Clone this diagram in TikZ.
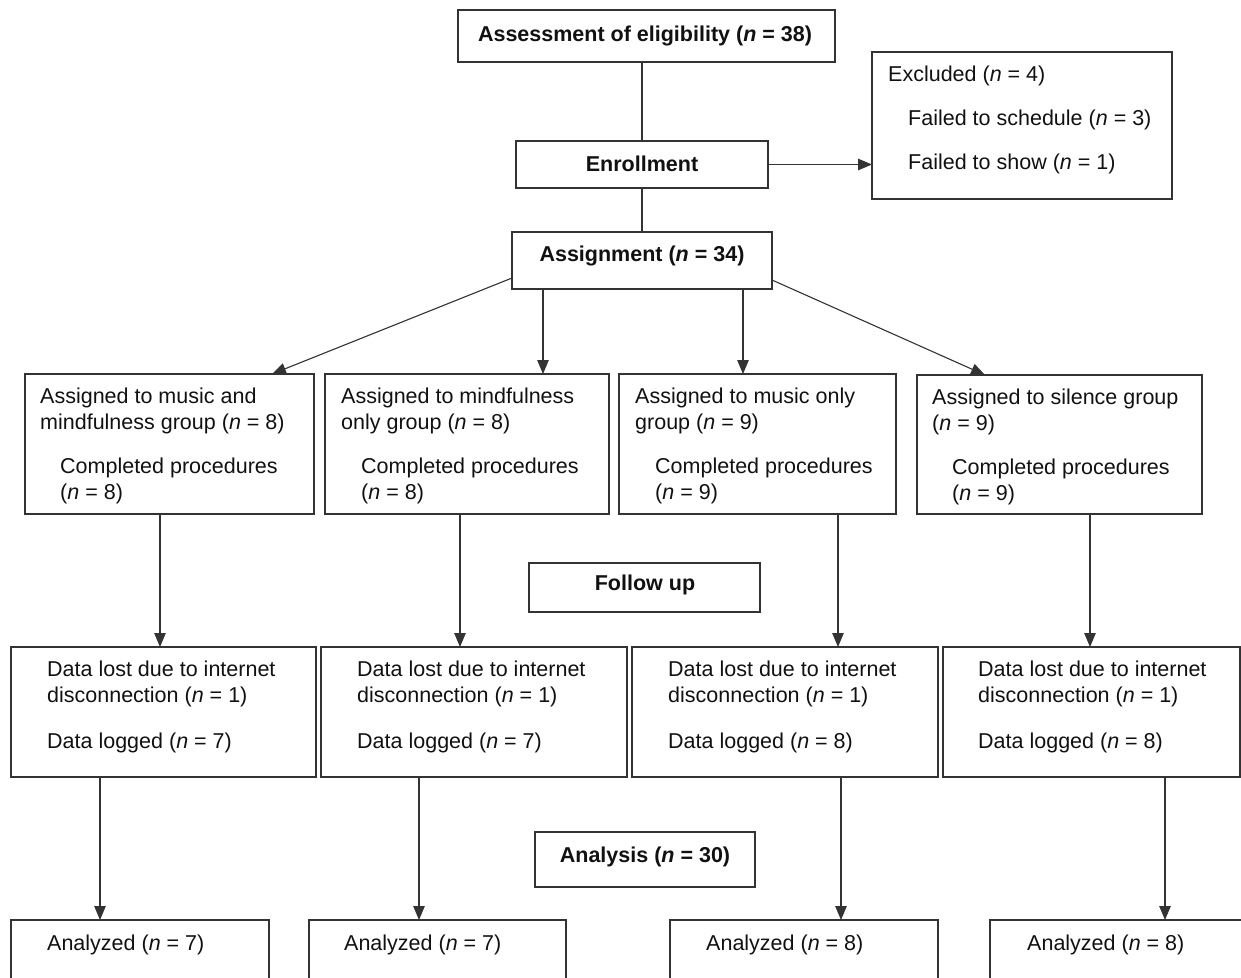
\documentclass[tikz,border=0pt]{standalone}
\usepackage{fontspec}
\setmainfont{Liberation Sans}
\usetikzlibrary{arrows.meta,calc}
\definecolor{linec}{HTML}{333333}
\definecolor{textc}{HTML}{111111}
\newcommand\nn{\textit{n}}
\newcommand\mkbox[5]{\node[box, minimum width={(#4-#2)*1pt}, minimum height={(#5-#3)*1pt}] (#1) at ({(#2+#4)/2},{(#3+#5)/2}) {};}
\tikzset{
  box/.style={draw=linec, line width=1.1pt, rectangle, inner sep=0pt, outer sep=0pt},
  txt/.style={inner sep=0pt, anchor=base west, font=\fontsize{21.5}{26}\selectfont, text=textc},
  ttl/.style={inner sep=0pt, anchor=base, font=\fontsize{21.5}{26}\selectfont\bfseries, text=textc},
  ln/.style={draw=linec, line width=1.1pt},
  arr/.style={draw=linec, line width=1.1pt, -{Triangle[length=14pt,width=11.5pt]}},
}
\begin{document}
\begin{tikzpicture}[x=1pt,y=-1pt]
\useasboundingbox (0,0) rectangle (1241,977);
\clip (0,0) rectangle (1241,977);
% top boxes
\mkbox{asm}{458}{10}{835}{62}
\mkbox{enr}{516}{141}{768}{188}
\mkbox{exc}{872}{52}{1172}{199}
\mkbox{asg}{512}{232}{772}{289}
\node[ttl] (tasm) at (645,41) {Assessment of eligibility (\nn{} = 38)};
\node[ttl] (tenr) at (642,171) {Enrollment};
\node[ttl] (tasg) at (642,261) {Assignment (\nn{} = 34)};
\node[txt] (te1) at (888,81) {Excluded (\nn{} = 4)};
\node[txt] (te2) at (908,125) {Failed to schedule (\nn{} = 3)};
\node[txt] (te3) at (908,169) {Failed to show (\nn{} = 1)};
% group boxes
\mkbox{g1}{25}{374}{314}{514}
\mkbox{g2}{325}{374}{609}{514}
\mkbox{g3}{619}{374}{896}{514}
\mkbox{g4}{917}{375}{1202}{514}
\node[txt] (g1a) at (40,403) {Assigned to music and};
\node[txt] (g1b) at (40,429) {mindfulness group (\nn{} = 8)};
\node[txt] (g1c) at (60,473) {Completed procedures};
\node[txt] (g1d) at (60,499) {(\nn{} = 8)};
\node[txt] (g2a) at (341,403) {Assigned to mindfulness};
\node[txt] (g2b) at (341,429) {only group (\nn{} = 8)};
\node[txt] (g2c) at (361,473) {Completed procedures};
\node[txt] (g2d) at (361,499) {(\nn{} = 8)};
\node[txt] (g3a) at (635,403) {Assigned to music only};
\node[txt] (g3b) at (635,429) {group (\nn{} = 9)};
\node[txt] (g3c) at (655,473) {Completed procedures};
\node[txt] (g3d) at (655,499) {(\nn{} = 9)};
\node[txt] (g4a) at (932,404) {Assigned to silence group};
\node[txt] (g4b) at (932,430) {(\nn{} = 9)};
\node[txt] (g4c) at (952,474) {Completed procedures};
\node[txt] (g4d) at (952,500) {(\nn{} = 9)};
% follow up
\mkbox{fu}{529}{563}{760}{612}
\node[ttl] (tfu) at (645,590) {Follow up};
% data boxes
\mkbox{d1}{11}{647}{316}{777}
\mkbox{d2}{321}{647}{627}{777}
\mkbox{d3}{632}{647}{938}{777}
\mkbox{d4}{943}{647}{1240}{777}
\foreach \nm/\xx/\kk in {d1/47/7, d2/357/7, d3/668/8, d4/978/8}{
  \node[txt] (\nm a) at (\xx,676) {Data lost due to internet};
  \node[txt] (\nm b) at (\xx,702) {disconnection (\nn{} = 1)};
  \node[txt] (\nm c) at (\xx,748) {Data logged (\nn{} = \kk)};
}
% analysis
\mkbox{an}{535}{832}{755}{887}
\node[ttl] (tan) at (645,862) {Analysis (\nn{} = 30)};
% analyzed boxes
\mkbox{a1}{11}{920}{269}{1000}
\mkbox{a2}{309}{920}{566}{1000}
\mkbox{a3}{670}{920}{938}{1000}
\mkbox{a4}{990}{920}{1260}{1000}
\node[txt] (a1t) at (47,950) {Analyzed (\nn{} = 7)};
\node[txt] (a2t) at (344,950) {Analyzed (\nn{} = 7)};
\node[txt] (a3t) at (706,950) {Analyzed (\nn{} = 8)};
\node[txt] (a4t) at (1027,950) {Analyzed (\nn{} = 8)};
% connectors top
\draw[ln] (asm.south -| enr.north) -- (enr.north);
\draw[ln] (enr.south) -- (enr.south |- asg.north);
\draw[arr] (enr.east) -- (enr.east -| exc.west);
% assignment to groups
\draw[arr] ([yshift=-17.5pt]asg.west) -- ([xshift=102.5pt]g1.north);
\draw[arr] ([xshift=-99pt]asg.south) coordinate (s2) -- (s2 |- g2.north);
\draw[arr] ([xshift=101pt]asg.south) coordinate (s3) -- (s3 |- g3.north);
\draw[arr] ([yshift=-19.5pt]asg.east) -- ([xshift=-74.5pt]g4.north);
% groups to data
\draw[arr] ([xshift=-9.5pt]g1.south) coordinate (t1) -- (t1 |- d1.north);
\draw[arr] ([xshift=-7pt]g2.south) coordinate (t2) -- (t2 |- d2.north);
\draw[arr] ([xshift=80.5pt]g3.south) coordinate (t3) -- (t3 |- d3.north);
\draw[arr] ([xshift=30.5pt]g4.south) coordinate (t4) -- (t4 |- d4.north);
% data to analyzed
\draw[arr] ([xshift=-63.5pt]d1.south) coordinate (u1) -- (u1 |- a1.north);
\draw[arr] ([xshift=-55pt]d2.south) coordinate (u2) -- (u2 |- a2.north);
\draw[arr] ([xshift=56pt]d3.south) coordinate (u3) -- (u3 |- a3.north);
\draw[arr] ([xshift=73.5pt]d4.south) coordinate (u4) -- (u4 |- a4.north);
\end{tikzpicture}
\end{document}
